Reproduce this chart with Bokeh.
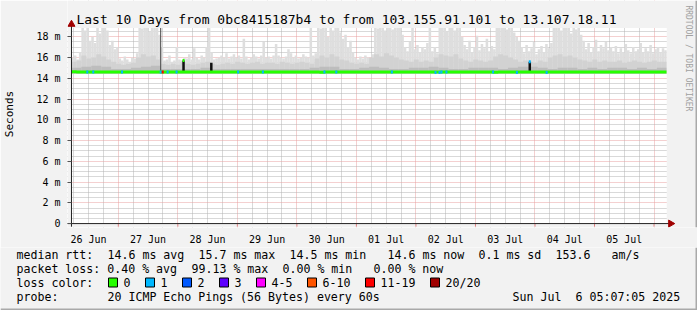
import re
from bokeh.plotting import figure
from bokeh.models import Range1d, FixedTicker
from bokeh.layouts import column
from bokeh.embed import file_html
from bokeh.resources import INLINE
from bokeh.core.properties import value

FONT = "DejaVu Sans Mono"
BG = "#f2f2f2"
EDGE = "#a9a9a9"

# ---------------- data ----------------
# time axis in hours after 26 Jun 00:00; graph runs 26 Jun 05:07 -> 06 Jul 05:07
t_start = 5.12
t_end = 245.12
y_top = 18.85

# hourly maximum of the smoke (ms)
smoke_max = [
    16.0, 16.2, 15.8, 16.5,
    19.5, 18.6, 19.5,
    17.6, 18.0, 17.4,
    19.5, 18.3, 19.5, 19.0, 18.6,
    17.2, 17.6, 16.8, 17.0,
    15.9, 15.7, 16.1, 15.8, 15.6, 16.0, 15.9, 16.4,
    19.5, 18.8, 19.5, 19.5, 18.5, 19.5, 19.0, 19.5, 18.2,
    17.0,
    15.7, 15.8, 16.2, 15.6, 15.7, 17.0, 15.8, 15.7, 16.0,
    15.9, 16.3, 15.8, 16.9, 16.0, 15.8, 16.2, 16.0,
    17.0, 19.3, 16.5,
    15.8, 15.9, 16.0,
    16.2, 16.0, 16.4, 15.9, 16.1, 16.3,
    16.0, 16.2, 15.9, 17.8, 16.1, 15.8, 16.0, 16.3, 16.1, 15.9, 16.2, 17.5, 16.0, 16.1, 15.9, 16.2,
    17.3, 16.2, 16.0, 15.9, 16.1, 16.8, 16.4, 16.0, 16.2, 15.9, 16.0, 16.3, 16.1, 16.0, 19.3, 16.2,
    16.4, 19.5, 18.8, 19.5, 19.2, 18.0, 19.5, 18.6, 19.5, 19.5, 18.4, 17.8,
    18.2, 17.0, 17.6, 16.5,
    16.0, 15.8, 16.1, 15.9, 16.2, 16.0, 15.9, 16.3,
    19.5, 18.8, 19.5, 19.5, 18.6, 19.5, 19.0, 18.7, 19.5, 18.9, 19.5, 18.2,
    17.0, 16.6, 17.5, 19.2, 16.8, 17.2, 16.5, 17.0, 16.8, 17.4, 18.9, 16.6, 17.0, 16.4,
    19.5, 19.0, 19.5, 18.5, 19.5, 19.3, 18.6, 19.5, 18.9, 18.0,
    17.2, 16.8, 17.6, 16.5, 17.0, 18.1, 16.7, 17.3, 16.9, 17.8, 16.6, 17.1, 16.8,
    19.5, 19.0, 19.5, 19.5, 18.7, 19.5, 19.2, 18.4, 18.0, 17.6,
    17.0, 16.4, 17.2, 16.6, 16.9, 17.5, 16.3, 16.8, 17.1, 16.5, 17.3, 16.9, 17.4,
    19.5, 19.0, 19.5, 18.6, 18.9, 19.5, 19.2, 18.3, 19.5, 18.7, 19.0, 18.2, 17.6,
    16.8, 17.4, 16.5, 17.0, 17.7, 16.6, 17.2, 16.9, 17.5, 16.7, 17.0,
    16.6, 17.1, 16.4, 16.9, 16.5, 17.3, 16.7, 16.4, 17.0, 16.6, 16.8, 17.4, 16.5, 16.9, 16.6, 17.2,
    16.4, 16.8, 17.0, 16.5, 16.9, 16.7,
]

# two-hourly upper edge of the denser smoke (ms)
smoke_mid = [
    15.6, 15.7, 16.2, 15.9, 16.0, 16.3, 16.1, 15.8, 15.6, 15.4, 15.3, 15.4, 15.5,
    16.0, 16.3, 16.1, 16.2, 15.8, 15.4,
    15.3, 15.4, 15.3, 15.5, 15.4, 15.3, 15.4, 15.5,
    15.6, 15.4, 15.3,
    15.4, 15.5, 15.4, 15.6, 15.5, 15.4, 15.5, 15.6, 15.4, 15.5, 15.5, 15.4, 15.6,
    15.5, 15.4, 15.5, 15.6, 15.5, 15.4,
    15.9, 16.2, 16.0, 16.3, 16.1, 15.8,
    15.7, 15.5, 15.4, 15.5, 15.4,
    16.0, 16.3, 16.1, 16.4, 16.2, 16.0, 15.8,
    15.7, 15.6, 15.8, 15.6, 15.7, 15.6,
    16.0, 16.3, 16.2, 16.1, 16.3, 15.9,
    15.7, 15.6, 15.8, 15.7, 15.6, 15.7,
    16.1, 16.3, 16.2, 16.0, 15.8,
    15.6, 15.7, 15.6, 15.5, 15.7, 15.6,
    16.0, 16.2, 16.3, 16.1, 16.2, 16.0, 15.8,
    15.7, 15.6, 15.8, 15.6, 15.7, 15.6,
    15.6, 15.7, 15.5, 15.6, 15.7, 15.6, 15.5, 15.6, 15.7, 15.6, 15.6,
]

# four-hourly upper edge of the darkest smoke (ms)
smoke_inner = [
    15.0, 15.1, 15.2, 15.1, 14.9, 14.9, 15.0, 15.1, 15.2, 14.9,
    14.9, 14.9, 14.9, 15.0, 14.9, 14.9, 14.9, 14.9, 14.9, 14.9,
    14.9, 14.9, 14.9, 14.9, 15.0, 15.1, 15.1, 14.9, 14.9, 15.0,
    15.1, 15.0, 14.9, 14.9, 15.0, 15.0, 15.1, 15.0, 14.9, 14.9,
    15.0, 15.0, 15.0, 14.9, 15.0, 15.1, 15.1, 15.0, 14.9, 15.0,
    15.0, 14.9, 15.0, 14.9, 15.0, 15.0, 14.9, 15.0, 14.9, 15.0,
]
smoke_floor = 14.45

# two-hourly median rtt (ms)
median_rtt = [
    14.62, 14.60, 14.60, 14.61, 14.60, 14.60, 14.59, 14.60, 14.60, 14.60, 14.60, 14.60,
    14.60, 14.61, 14.60, 14.60, 14.60, 14.59, 14.60, 14.60, 14.60, 14.60, 14.60, 14.61,
    14.60, 14.60, 14.60, 14.59, 14.60, 14.60, 14.60, 14.60, 14.61, 14.60, 14.60, 14.60,
    14.60, 14.60, 14.59, 14.60, 14.60, 14.60, 14.60, 14.60, 14.60, 14.61, 14.60, 14.60,
    14.60, 14.59, 14.58, 14.60, 14.60, 14.61, 14.60, 14.60, 14.59, 14.60, 14.60, 14.60,
    14.60, 14.60, 14.61, 14.60, 14.60, 14.60, 14.60, 14.59, 14.60, 14.60, 14.60, 14.60,
    14.61, 14.60, 14.60, 14.60, 14.60, 14.60, 14.59, 14.60, 14.60, 14.60, 14.60, 14.60,
    14.60, 14.58, 14.59, 14.60, 14.60, 14.60, 14.60, 14.61, 14.60, 14.60, 14.60, 14.60,
    14.60, 14.60, 14.60, 14.59, 14.60, 14.60, 14.60, 14.61, 14.60, 14.60, 14.60, 14.60,
    14.60, 14.60, 14.59, 14.60, 14.60, 14.60, 14.60, 14.60, 14.61, 14.60, 14.60, 14.60,
]

# moments with packet loss: time (h), rtt (ms), pings lost out of 20
loss_t = [11.5, 13.9, 25.5, 41.1, 41.9, 43.9, 47.5, 50.3, 72.3, 82.3, 107.1, 111.9,
          134.3, 151.9, 153.5, 154.3, 156.3, 175.1, 184.7, 189.9, 196.7]
loss_y = [14.6, 14.6, 14.6, 14.6, 14.6, 14.6, 14.6, 15.7, 14.6, 14.6, 14.6, 14.6,
          14.6, 14.55, 14.55, 14.6, 14.6, 14.6, 14.55, 15.6, 14.55]
loss_n = [1, 1, 1, 1, 15, 1, 1, 0, 1, 1, 1, 1,
          1, 1, 1, 1, 1, 1, 1, 1, 1]

# short jumps of the median (drawn dark)
jump_t = [50.3, 61.5, 189.9]
jump_lo = [14.6, 14.5, 14.5]
jump_hi = [15.7, 15.5, 15.6]
# the full-loss gap line
gap_t = [41.1]
gap_lo = [14.6]
gap_hi = [18.85]

day_ticks = [12, 36, 60, 84, 108, 132, 156, 180, 204, 228]
day_labels = ["26 Jun", "27 Jun", "28 Jun", "29 Jun", "30 Jun",
              "01 Jul", "02 Jul", "03 Jul", "04 Jul", "05 Jul"]
midnight_ticks = [24, 48, 72, 96, 120, 144, 168, 192, 216, 240]
six_hour_ticks = [6, 12, 18, 30, 36, 42, 54, 60, 66, 78, 84, 90, 102, 108, 114,
                  126, 132, 138, 150, 156, 162, 174, 180, 186, 198, 204, 210,
                  222, 228, 234]

y_ticks = [0, 2, 4, 6, 8, 10, 12, 14, 16, 18]
y_labels = ["0", "2 m", "4 m", "6 m", "8 m", "10 m", "12 m", "14 m", "16 m", "18 m"]
y_minor = [0.5, 1, 1.5, 2.5, 3, 3.5, 4.5, 5, 5.5, 6.5, 7, 7.5, 8.5, 9, 9.5,
           10.5, 11, 11.5, 12.5, 13, 13.5, 14.5, 15, 15.5, 16.5, 17, 17.5, 18.5]

loss_names = ["0", "1", "2", "3", "4-5", "6-10", "11-19", "20/20"]
loss_upper = [0, 1, 2, 3, 5, 10, 19, 20]
loss_colors = ["#26ff00", "#00b8ff", "#0059ff", "#5e00ff",
               "#ff00ff", "#ff5500", "#ff0000", "#a10000"]

title_text = "Last 10 Days from 0bc8415187b4 to from 103.155.91.101 to 13.107.18.11"
stat_lines = [
    "median rtt:  14.6 ms avg  15.7 ms max  14.5 ms min   14.6 ms now  0.1 ms sd  153.6   am/s",
    "packet loss: 0.40 % avg  99.13 % max  0.00 % min   0.00 % now",
]
probe_line = "probe:       20 ICMP Echo Pings (56 Bytes) every 60s"
stamp_text = "Sun Jul  6 05:07:05 2025"
side_text = "RRDTOOL / TOBI OETIKER"

# ---------------- main graph ----------------
PX_PER_H = 2.496      # 60 px per day
PX_PER_MS = 10.61
X0_PX = 67            # canvas x of t_start
Y0_PX = 228           # canvas y of 0 ms


def tx_of(px):
    return t_start + (px - X0_PX) / PX_PER_H


def vy_of(py):
    return (Y0_PX - py) / PX_PER_MS


x_lo = tx_of(63)
x_hi = tx_of(697)
y_lo = vy_of(232)
y_hi = vy_of(0)

p = figure(width=697, height=247, output_backend="svg", toolbar_location=None,
           title=None, x_range=Range1d(x_lo, x_hi), y_range=Range1d(y_lo, y_hi),
           min_border_left=63, min_border_right=0, min_border_top=0, min_border_bottom=15)
p.background_fill_color = "white"
p.border_fill_color = BG
p.outline_line_color = None

hour_x = [t_start + 0.5 + i for i in range(len(smoke_max))]
two_x = [t_start + 1.0 + 2 * i for i in range(len(smoke_mid))]
four_x = [t_start + 2.0 + 4 * i for i in range(len(smoke_inner))]

p.vbar(x=hour_x, width=1.02, bottom=smoke_floor, top=smoke_max,
       fill_color="#dedede", line_color=None)
p.vbar(x=two_x, width=2.02, bottom=smoke_floor, top=smoke_mid,
       fill_color="#d2d2d2", line_color=None)
p.vbar(x=four_x, width=4.02, bottom=smoke_floor, top=smoke_inner,
       fill_color="#bdbdbd", line_color=None)

p.segment(x0=gap_t, y0=gap_lo, x1=gap_t, y1=gap_hi, line_color="#444444", line_width=1)
p.segment(x0=jump_t, y0=jump_lo, x1=jump_t, y1=jump_hi, line_color="#111111", line_width=2.5)

med_x = [t_start + 2 * i for i in range(len(median_rtt) + 1)]
med_y = median_rtt + [median_rtt[-1]]
p.step(x=med_x, y=med_y, mode="after", line_color="#26ff00", line_width=3)


def loss_color(n):
    for up, c in zip(loss_upper, loss_colors):
        if n <= up:
            return c
    return loss_colors[-1]


p.rect(x=loss_t, y=loss_y, width=2, height=3, width_units="screen", height_units="screen",
       fill_color=[loss_color(n) for n in loss_n], line_color=None)

# background margins inside the frame (outside the graph area)
p.quad(left=[x_lo, x_lo, t_end, x_lo], right=[t_start, x_hi, x_hi, x_hi],
       bottom=[y_lo, y_top, y_lo, y_lo], top=[y_hi, y_hi, y_hi, 0],
       fill_color=BG, line_color=None)
# darker right edge of the image
p.quad(left=[tx_of(695)], right=[x_hi], bottom=[y_lo], top=[y_hi],
       fill_color=EDGE, line_color=None)

# small red day ticks below the x axis
p.segment(x0=midnight_ticks, y0=[0] * len(midnight_ticks), x1=midnight_ticks,
          y1=[-0.3] * len(midnight_ticks), line_color="#e08080", line_width=1)

# axis lines with arrow heads
p.segment(x0=[t_start, x_lo], y0=[-0.3, 0], x1=[t_start, t_end + 1.6], y1=[19.1, 0],
          line_color="#222222", line_width=1)
p.scatter(x=[t_start], y=[19.2], marker="triangle", size=7,
          fill_color="#a00000", line_color="#a00000")
p.scatter(x=[t_end + 1.6], y=[0], marker="triangle", size=7, angle=-1.5708,
          fill_color="#a00000", line_color="#a00000")

# title and side credit
p.text(x=[tx_of(72)], y=[vy_of(19)], text=[title_text], text_font=value(FONT),
       text_font_size=value("13px"), text_color="black", text_baseline="middle",
       text_align="left")
p.text(x=[tx_of(688)], y=[vy_of(5)], text=[side_text], text_font=value(FONT),
       text_font_size=value("8px"), text_color="#a0a0a0", text_baseline="middle",
       text_align="left", angle=-1.5708)

# axes
p.xaxis.ticker = FixedTicker(ticks=day_ticks)
p.xaxis.major_label_overrides = {t: l for t, l in zip(day_ticks, day_labels)}
p.xaxis.major_tick_line_color = None
p.xaxis.minor_tick_line_color = None
p.xaxis.major_label_standoff = 0
p.xaxis.axis_line_color = None

p.yaxis.ticker = FixedTicker(ticks=y_ticks, minor_ticks=y_minor)
p.yaxis.major_label_overrides = {t: l for t, l in zip(y_ticks, y_labels)}
p.yaxis.major_tick_out = 0
p.yaxis.major_tick_in = 4
p.yaxis.major_tick_line_color = "#555555"
p.yaxis.minor_tick_line_color = None
p.yaxis.major_label_standoff = 3
p.yaxis.axis_line_color = None
p.yaxis.axis_label = "Seconds"
p.yaxis.axis_label_standoff = 17
p.yaxis.axis_label_text_font = FONT
p.yaxis.axis_label_text_font_size = "11px"
p.yaxis.axis_label_text_font_style = "normal"
p.yaxis.axis_label_text_color = "black"

for ax in (p.xaxis, p.yaxis):
    ax.major_label_text_font = FONT
    ax.major_label_text_font_size = "10px"
    ax.major_label_text_color = "black"

# grids
p.xgrid.ticker = FixedTicker(ticks=midnight_ticks, minor_ticks=six_hour_ticks)
for g in (p.xgrid, p.ygrid):
    g.grid_line_color = "#e8a0a0"
    g.grid_line_dash = "1 1"
    g.grid_line_width = 1
    g.minor_grid_line_color = "#b2b2b2"
    g.minor_grid_line_dash = "1 1"
    g.minor_grid_line_width = 1

# ---------------- legend block ----------------
q = figure(width=697, height=63, output_backend="svg", toolbar_location=None,
           x_range=Range1d(0, 697), y_range=Range1d(63, 0),
           x_axis_type=None, y_axis_type=None, min_border=0)
q.background_fill_color = BG
q.border_fill_color = BG
q.outline_line_color = None
q.xgrid.visible = False
q.ygrid.visible = False

for fig in (p, q):
    try:
        fig.frame_align = False
    except Exception:
        pass

CHAR_W = 7.0
LEFT = 16
row_y = [7, 21, 35, 49]


def segments(s):
    return [(m.start(), m.group()) for m in re.finditer(r"\S+(?: \S+)*", s)]


tx, ty, tt = [], [], []
for ry, line in zip(row_y[:2], stat_lines):
    for col, seg in segments(line):
        tx.append(LEFT + col * CHAR_W)
        ty.append(ry)
        tt.append(seg)
# loss color row
tx.append(LEFT); ty.append(row_y[2]); tt.append("loss color:")
box_x = []
bx = 108
for name in loss_names:
    box_x.append(bx)
    tx.append(bx + 15); ty.append(row_y[2]); tt.append(name)
    bx = bx + 15 + len(name) * CHAR_W + 15
for col, seg in segments(probe_line):
    tx.append(LEFT + col * CHAR_W)
    ty.append(row_y[3])
    tt.append(seg)
stamp_left = 680 - len(stamp_text) * CHAR_W
for col, seg in segments(stamp_text):
    tx.append(stamp_left + col * CHAR_W)
    ty.append(row_y[3])
    tt.append(seg)

q.text(x=tx, y=ty, text=tt, text_font=value(FONT), text_font_size=value("11.6px"),
       text_color="black", text_baseline="middle", text_align="left")
q.rect(x=[b + 4.5 for b in box_x], y=[row_y[2]] * len(box_x), width=9, height=9,
       fill_color=loss_colors, line_color="black", line_width=1)
# darker right and bottom edges of the image
q.quad(left=[695, 0], right=[697, 697], top=[0, 61], bottom=[63, 63],
       fill_color=EDGE, line_color=None)

layout = column(p, q, spacing=0)
open("out.html", "w").write(file_html(layout, INLINE))
